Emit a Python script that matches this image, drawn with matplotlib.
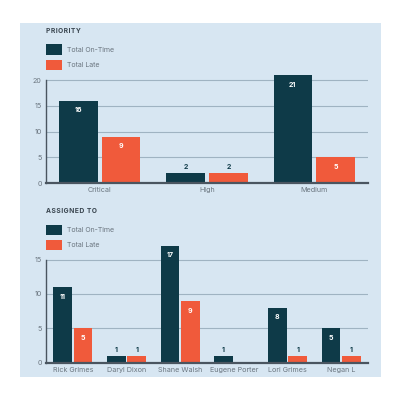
import matplotlib
matplotlib.use("Agg")
import matplotlib.pyplot as plt
from matplotlib.patches import Rectangle
import numpy as np

priority_cats = ["Critical", "High", "Medium"]
priority_ontime = [16, 2, 21]
priority_late = [9, 2, 5]

assignee_cats = ["Rick Grimes", "Daryl Dixon", "Shane Walsh", "Eugene Porter", "Lori Grimes", "Negan L"]
assignee_ontime = [11, 1, 17, 1, 8, 5]
assignee_late = [5, 1, 9, 0, 1, 1]

series_names = ["Total On-Time", "Total Late"]

DARK = "#0e3a48"
ORANGE = "#f05a3b"
BG = "#d7e6f2"
GRID = "#9fb3c2"
TICK = "#6b7680"

plt.rcParams['font.family'] = ['Inter', 'DejaVu Sans']

fig = plt.figure(figsize=(4, 4), dpi=100)
fig.patch.set_facecolor("white")
fig.patches.append(Rectangle((20/400, 23/400), 361/400, 354/400, transform=fig.transFigure,
                             facecolor=BG, edgecolor="none", zorder=-10))


def draw(ax, cats, on, late, ylim, yticks, w, off):
    ax.set_facecolor("none")
    ax.set_zorder(1)
    x = np.arange(len(cats))
    b1 = ax.bar(x - off, on, width=w, color=DARK, zorder=3)
    b2 = ax.bar(x + off, late, width=w, color=ORANGE, zorder=3)
    ax.set_xlim(-0.5, len(cats) - 0.5)
    ax.set_ylim(*ylim)
    ax.set_yticks(yticks)
    ax.yaxis.grid(True, color=GRID, linewidth=0.8, zorder=0)
    ax.set_axisbelow(True)
    ax.set_xticks(x)
    ax.set_xticklabels(cats)
    ax.tick_params(axis='both', length=0, labelsize=5.2, colors=TICK, pad=3)
    for s in ["top", "right"]:
        ax.spines[s].set_visible(False)
    ax.spines["left"].set_color("#4a5560")
    ax.spines["left"].set_linewidth(1.0)
    ax.spines["left"].set_bounds(0, yticks[-1])
    ax.spines["bottom"].set_color("#4a5560")
    ax.spines["bottom"].set_linewidth(1.6)
    ax.spines["bottom"].set_zorder(4)
    for bars, vals in ((b1, on), (b2, late)):
        for rect, v in zip(bars, vals):
            if v == 0:
                continue
            cx = rect.get_x() + rect.get_width() / 2
            if v >= 3:
                ax.annotate(str(v), (cx, v), xytext=(0, -7), textcoords="offset points",
                            ha="center", va="center", color="white", fontsize=5, fontweight="bold", zorder=5)
            else:
                ax.annotate(str(v), (cx, v), xytext=(0, 4), textcoords="offset points",
                            ha="center", va="center", color=DARK, fontsize=5, fontweight="bold", zorder=5)


ax1 = fig.add_axes([46/400, 1 - 183/400, 322/400, 109/400])
draw(ax1, priority_cats, priority_ontime, priority_late, (0, 21.2), [0, 5, 10, 15, 20], 0.36, 0.2)

ax2 = fig.add_axes([46/400, 1 - 362.7/400, 322/400, 119/400])
draw(ax2, assignee_cats, assignee_ontime, assignee_late, (0, 17.3), [0, 5, 10, 15], 0.35, 0.19)

for title, ty in (("PRIORITY", 31), ("ASSIGNED TO", 211)):
    fig.text(46/400, 1 - ty/400, "\u200a".join(title), fontsize=4.8, fontweight="bold",
             color="#3a4650", va="center", ha="left")

for yl in (49.5, 229.5):
    for i, (name, col) in enumerate(zip(series_names, [DARK, ORANGE])):
        yc = yl + i * 15.5
        fig.patches.append(Rectangle((46/400, 1 - (yc + 5)/400), 16/400, 10/400,
                                     transform=fig.transFigure, facecolor=col, edgecolor="none", zorder=2))
        fig.text(67/400, 1 - yc/400, name, fontsize=5, color=TICK, va="center", ha="left")

fig.savefig("out.png", dpi=100, facecolor="white")
